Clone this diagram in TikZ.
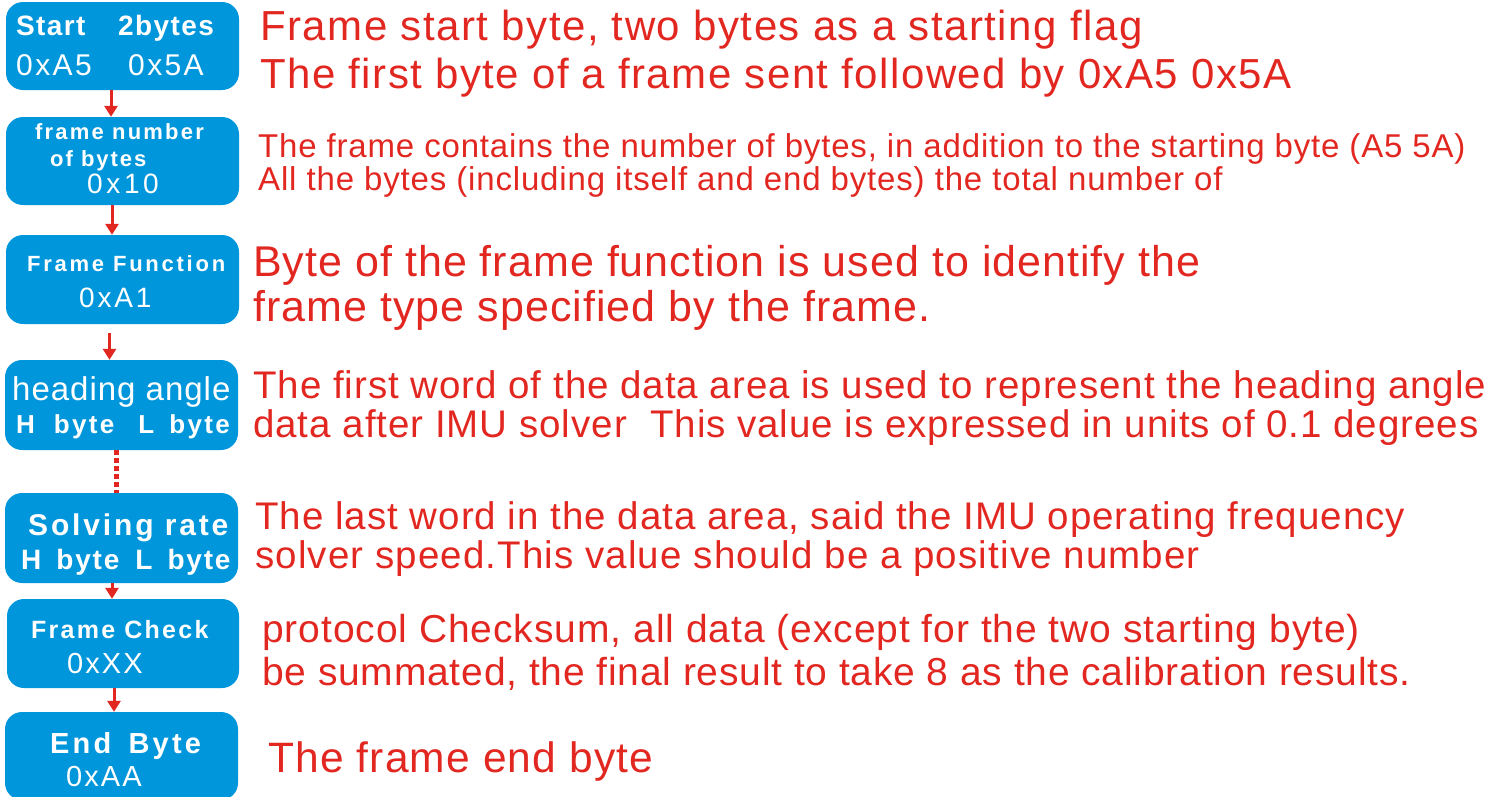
\documentclass[tikz,border=0pt]{standalone}
\usepackage{fontspec}
\setmainfont{Liberation Sans}
\usetikzlibrary{arrows.meta,calc}
\definecolor{boxblue}{RGB}{0,150,219}
\definecolor{txtred}{RGB}{226,38,32}
\newcommand\LS[2]{{\addfontfeature{LetterSpace=#1}#2}}
\newcommand\fs[1]{\fontsize{#1}{#1}\selectfont}
\begin{document}
\begin{tikzpicture}[x=1pt,y=-1pt,
  box/.style={fill=boxblue,rounded corners=17pt,minimum width=233pt,minimum height=88pt,inner sep=0pt},
  lbl/.style={anchor=base west,inner sep=0pt,text=white},
  desc/.style={anchor=base west,inner sep=0pt,text=txtred},
  link/.style={draw=txtred,line width=3pt,-{Triangle[width=13pt,length=11pt]}},
  dots/.style={draw=txtred,line width=5pt,dash pattern=on 5pt off 3pt}]
\useasboundingbox (0,0) rectangle (1502,796);
% boxes
\node[box] (b1) at (122.5,46) {};
\node[box] (b2) at (122.5,161) {};
\node[box,minimum height=89pt] (b3) at (122.5,279.5) {};
\node[box,minimum height=90pt] (b4) at (121.5,405) {};
\node[box,minimum height=90pt] (b5) at (121.5,538) {};
\node[box,minimum width=232pt,minimum height=89pt] (b6) at (123,643.5) {};
\node[box] (b7) at (121.5,756) {};
% box labels
\node[lbl,font=\fs{28}\bfseries] (s1a) at (16,35) {\LS{5}{Start}};
\node[lbl,font=\fs{28}\bfseries] (s1b) at (118,35) {\LS{5}{2bytes}};
\node[lbl,font=\fs{30}] (s1c) at (16,75) {\LS{8}{0xA5}};
\node[lbl,font=\fs{30}] (s1d) at (128,75) {\LS{8}{0x5A}};
\node[lbl,font=\fs{22}\bfseries] (s2a) at (35,139) {\LS{10}{frame number}};
\node[lbl,font=\fs{22}\bfseries] (s2b) at (50,166) {\LS{9}{of bytes}};
\node[lbl,font=\fs{28}] (s2c) at (87,193) {\LS{13}{0x10}};
\node[lbl,font=\fs{22}\bfseries] (s3a) at (27,271) {\LS{12.5}{Frame Function}};
\node[lbl,font=\fs{28}] (s3b) at (79,307) {\LS{10}{0xA1}};
\node[lbl,font=\fs{33}] (s4a) at (12,400) {\LS{3}{heading angle}};
\node[lbl,font=\fs{26}\bfseries] (s4b) at (16,433) {\LS{9}{H\hspace{19pt}byte\hspace{24pt}L\hspace{15pt}byte}};
\node[lbl,font=\fs{30}\bfseries] (s5a) at (28,535) {\LS{9.5}{Solving rate}};
\node[lbl,font=\fs{28}\bfseries] (s5b) at (21,569) {\LS{6.5}{H\hspace{15pt}byte\hspace{16pt}L\hspace{15pt}byte}};
\node[lbl,font=\fs{25}\bfseries] (s6a) at (31,638) {\LS{9}{Frame Check}};
\node[lbl,font=\fs{29}] (s6b) at (67,673) {\LS{7}{0xXX}};
\node[lbl,font=\fs{29}\bfseries] (s7a) at (50,753) {\LS{11}{End\hspace{6pt} Byte}};
\node[lbl,font=\fs{29}] (s7b) at (66,786) {\LS{7}{0xAA}};
% descriptions
\node[desc,font=\fs{42}] (t1a) at (260,40) {\LS{3.6}{Frame start byte, two bytes as a starting flag}};
\node[desc,font=\fs{42}] (t1b) at (260,88) {\LS{3.5}{The first byte of a frame sent followed by 0xA5 0x5A}};
\node[desc,font=\fs{33}] (t2a) at (258,157) {\LS{2.5}{The frame contains the number of bytes, in addition to the starting byte (A5 5A)}};
\node[desc,font=\fs{33}] (t2b) at (258,190) {\LS{2.55}{All the bytes (including itself and end bytes) the total number of}};
\node[desc,font=\fs{43}] (t3a) at (253,276) {\LS{2.4}{Byte of the frame function is used to identify the}};
\node[desc,font=\fs{43}] (t3b) at (253,321) {\LS{2.45}{frame type specified by the frame.}};
\node[desc,font=\fs{38.5}] (t4a) at (253,398) {\LS{2.5}{The first word of the data area is used to represent the heading angle}};
\node[desc,font=\fs{38.5}] (t4b) at (253,437) {\LS{2.5}{data after IMU solver\ \ This value is expressed in units of 0.1 degrees}};
\node[desc,font=\fs{38.5}] (t5a) at (255,529) {\LS{2.6}{The last word in the data area, said the IMU operating frequency}};
\node[desc,font=\fs{38.5}] (t5b) at (255,568) {\LS{2.9}{solver speed.This value should be a positive number}};
\node[desc,font=\fs{39}] (t6a) at (262,642) {\LS{2.4}{protocol Checksum, all data (except for the two starting byte)}};
\node[desc,font=\fs{39}] (t6b) at (262,685) {\LS{2.1}{be summated, the final result to take 8 as the calibration results.}};
\node[desc,font=\fs{42.5}] (t7) at (268,772) {\LS{2.8}{The frame end byte}};
% connectors
\draw[link] ([xshift=-11.5pt]b1.south) -- ([xshift=-11.5pt]b1.south |- b2.north);
\draw[link] ([xshift=-10.5pt]b2.south) -- ([xshift=-10.5pt]b2.south |- b3.north);
\draw[link] ([xshift=-13pt,yshift=-9pt]b3.south) -- ([xshift=-13pt]b3.south |- b4.north);
\draw[dots] ([xshift=-5.5pt]b4.south) -- ([xshift=-5.5pt]b4.south |- b5.north);
\draw[link] ([xshift=-9.5pt]b5.south) -- ([xshift=-9.5pt]b5.south |- b6.north);
\draw[link] ([xshift=-9pt]b6.south) -- ([xshift=-9pt]b6.south |- b7.north);
\end{tikzpicture}
\end{document}
